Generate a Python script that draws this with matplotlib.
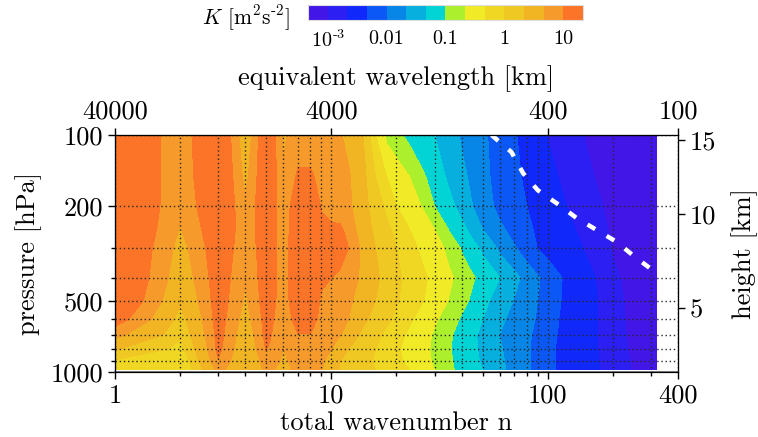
import numpy as np
import matplotlib.pyplot as plt
from matplotlib.ticker import FixedLocator, NullFormatter, NullLocator

plt.rcParams['font.family'] = 'serif'
plt.rcParams['font.serif'] = ['cmr10']
plt.rcParams['mathtext.fontset'] = 'cm'
plt.rcParams['axes.formatter.use_mathtext'] = True
plt.rcParams['font.size'] = 19

# total wavenumber n (columns) and pressure levels [hPa] (rows)
wavenumber = [1, 2, 3, 4, 5, 6, 7, 8, 9, 10, 11, 12, 14, 16, 18, 20, 23, 26, 30,
              35, 40, 45, 50, 60, 70, 80, 90, 100, 120, 150, 200, 250, 319]
pressure = [100, 150, 200, 250, 300, 400, 500, 600, 700, 800, 900, 980]

# log10 of kinetic energy K [m2 s-2]
log10_k = [
    [1.25, 0.85, 1.40, 0.45, 1.35, 0.65, 0.85, 0.85, 0.80, 0.78, 0.72, 0.62, 0.30, -0.30, -0.78, -0.93, -1.08, -1.18, -1.30,
     -1.55, -1.74, -1.85, -1.95, -2.13, -2.27, -2.43, -2.58, -2.71, -2.84, -3.01, -3.12, -3.18, -3.22],
    [1.30, 0.82, 1.40, 0.60, 1.35, 0.75, 1.05, 1.05, 0.90, 0.80, 0.78, 0.74, 0.39, 0.00, -0.30, -0.47, -0.70, -0.93, -1.14,
     -1.36, -1.61, -1.79, -1.93, -2.10, -2.23, -2.36, -2.48, -2.60, -2.77, -2.96, -3.10, -3.16, -3.21],
    [1.35, 0.78, 1.35, 0.75, 1.30, 0.80, 1.25, 1.25, 0.98, 0.90, 0.85, 0.78, 0.41, 0.15, -0.06, -0.30, -0.51, -0.70, -1.00,
     -1.20, -1.42, -1.70, -1.87, -2.08, -2.20, -2.30, -2.41, -2.51, -2.68, -2.88, -3.08, -3.15, -3.20],
    [1.40, 0.68, 1.30, 0.80, 1.25, 0.82, 1.28, 1.28, 1.08, 1.05, 1.05, 0.90, 0.49, 0.22, 0.07, -0.08, -0.30, -0.48, -0.70,
     -1.02, -1.20, -1.42, -1.70, -1.94, -2.11, -2.24, -2.35, -2.44, -2.60, -2.81, -3.05, -3.13, -3.20],
    [1.40, 0.58, 1.25, 0.78, 1.22, 0.85, 1.30, 1.30, 1.12, 1.12, 1.10, 1.00, 0.61, 0.30, 0.14, 0.00, -0.19, -0.35, -0.55,
     -0.79, -1.03, -1.19, -1.36, -1.78, -1.97, -2.15, -2.31, -2.40, -2.54, -2.73, -3.02, -3.11, -3.19],
    [1.40, 0.48, 1.20, 0.72, 1.20, 0.85, 1.30, 1.30, 1.06, 1.00, 0.95, 0.85, 0.63, 0.36, 0.19, 0.06, -0.10, -0.22, -0.40,
     -0.64, -0.82, -0.97, -1.09, -1.30, -1.60, -1.81, -1.97, -2.11, -2.34, -2.58, -2.95, -3.10, -3.20],
    [1.35, 0.35, 1.18, 0.65, 1.18, 0.85, 1.25, 1.25, 0.95, 0.85, 0.80, 0.75, 0.56, 0.30, 0.16, 0.03, -0.13, -0.26, -0.47,
     -0.72, -0.90, -1.06, -1.20, -1.47, -1.72, -1.87, -2.00, -2.14, -2.35, -2.56, -2.91, -3.09, -3.19],
    [1.15, 0.18, 1.15, 0.55, 1.14, 0.80, 1.15, 1.15, 0.90, 0.80, 0.75, 0.70, 0.37, 0.19, 0.06, -0.07, -0.25, -0.43, -0.65,
     -0.87, -1.04, -1.18, -1.30, -1.64, -1.80, -1.92, -2.03, -2.17, -2.38, -2.57, -2.90, -3.08, -3.18],
    [0.78, 0.05, 1.12, 0.45, 1.10, 0.75, 0.98, 0.98, 0.80, 0.75, 0.70, 0.49, 0.22, 0.07, -0.07, -0.19, -0.37, -0.54, -0.75,
     -0.96, -1.11, -1.24, -1.39, -1.70, -1.83, -1.95, -2.07, -2.20, -2.39, -2.58, -2.89, -3.07, -3.17],
    [0.32, -0.10, 1.08, 0.38, 1.02, 0.70, 0.88, 0.88, 0.75, 0.70, 0.50, 0.30, 0.14, 0.00, -0.13, -0.25, -0.42, -0.58, -0.77,
     -0.98, -1.12, -1.24, -1.37, -1.67, -1.83, -1.96, -2.10, -2.23, -2.40, -2.58, -2.87, -3.06, -3.16],
    [-0.05, -0.25, 0.98, 0.30, 0.88, 0.65, 0.80, 0.80, 0.75, 0.56, 0.30, 0.22, 0.09, -0.03, -0.14, -0.23, -0.39, -0.56, -0.75,
     -0.96, -1.10, -1.22, -1.34, -1.64, -1.83, -1.96, -2.10, -2.23, -2.40, -2.58, -2.84, -3.04, -3.15],
    [-0.20, -0.30, 0.80, 0.35, 0.78, 0.60, 0.78, 0.78, 0.72, 0.46, 0.27, 0.20, 0.10, 0.00, -0.10, -0.18, -0.30, -0.48, -0.70,
     -0.94, -1.09, -1.20, -1.30, -1.62, -1.81, -1.96, -2.10, -2.23, -2.40, -2.58, -2.83, -3.03, -3.14],
]

# contour levels of K and colours
k_levels = [1e-4, 1e-3, 2e-3, 5e-3, 0.01, 0.02, 0.05, 0.1, 0.2, 0.5, 1, 2, 5, 10, 1000]
colors = ['#4316e8', '#2c1ff3', '#1128fb', '#0b58f6', '#0886e8', '#06afde', '#02d4d6',
          '#acef2d', '#f0ea27', '#efd724', '#efc823', '#f1b423', '#f59a2b', '#fb7428']
cbar_ticks = [1e-3, 0.01, 0.1, 1, 10]
cbar_labels = [r'$10^{\text{-}3}$', '0.01', '0.1', '1', '10']

# axis ticks
n_major = [1, 10, 100, 400]
n_minor = [2, 3, 4, 5, 6, 7, 8, 9, 20, 30, 40, 50, 60, 70, 80, 90, 200, 300]
p_major = [100, 200, 500, 1000]
p_minor = [300, 400, 600, 700, 800, 900]
wavelength_km = [40000, 4000, 400, 100]
height_km = [5, 10, 15]
height_p = [537, 215, 105]

# white dashed line
line_n = [55, 68, 77, 90, 110, 136, 169, 209, 253, 306, 319]
line_p = [100, 118, 145, 171, 194, 224, 252, 283, 327, 372, 385]

fig = plt.figure(figsize=(7.58, 4.37), dpi=100)
ax = fig.add_axes([0.1517, 0.1487, 0.7427, 0.5423])

cs = ax.contourf(wavenumber, pressure, np.array(log10_k), levels=np.log10(k_levels),
                 colors=colors)
ax.plot(line_n, line_p, color='white', lw=3.2, ls=(0, (2, 3)), zorder=3)

ax.set_xscale('log')
ax.set_yscale('log')
ax.set_xlim(1, 400)
ax.set_ylim(1000, 100)
ax.xaxis.set_major_locator(FixedLocator(n_major))
ax.xaxis.set_minor_locator(FixedLocator(n_minor))
ax.set_xticklabels([str(v) for v in n_major])
ax.xaxis.set_minor_formatter(NullFormatter())
ax.yaxis.set_major_locator(FixedLocator(p_major))
ax.yaxis.set_minor_locator(FixedLocator(p_minor))
ax.set_yticklabels([str(v) for v in p_major])
ax.yaxis.set_minor_formatter(NullFormatter())
ax.tick_params(which='major', direction='out', length=5, width=1)
ax.tick_params(which='minor', direction='out', length=3, width=1)
ax.grid(True, which='both', color='0.15', ls=(0, (1, 2)), lw=1)
ax.set_xlabel('total wavenumber n', labelpad=3)
ax.set_ylabel('pressure [hPa]', labelpad=6)
ax.spines['bottom'].set_color('0.45')
ax.spines['bottom'].set_linewidth(1.3)

# top axis: equivalent wavelength
ax_t = ax.twiny()
ax_t.set_xscale('log')
ax_t.set_xlim(1, 400)
ax_t.xaxis.set_major_locator(FixedLocator([40000 / w for w in wavelength_km]))
ax_t.xaxis.set_minor_locator(NullLocator())
ax_t.set_xticklabels([str(w) for w in wavelength_km])
ax_t.tick_params(direction='out', length=5, width=1)
ax_t.set_xlabel('equivalent wavelength [km]', labelpad=10)

# right axis: height
ax_r = ax.twinx()
ax_r.set_yscale('log')
ax_r.set_ylim(1000, 100)
ax_r.yaxis.set_major_locator(FixedLocator(height_p))
ax_r.yaxis.set_minor_locator(NullLocator())
ax_r.set_yticklabels([str(h) for h in height_km])
ax_r.tick_params(direction='out', length=5, width=1)
ax_r.set_ylabel('height [km]', labelpad=11)

# colorbar
cax = fig.add_axes([0.4063, 0.9542, 0.3628, 0.0343])
cb = fig.colorbar(cs, cax=cax, orientation='horizontal')
cb.set_ticks(np.log10(cbar_ticks))
cb.set_ticklabels(cbar_labels)
cb.ax.tick_params(length=0, labelsize=14.5, pad=7)
cb.outline.set_edgecolor('#dddddd')
cb.outline.set_linewidth(0.8)
fig.text(0.383, 0.958, r'$K$ [m$^2$s$^{\text{-}2}$]', ha='right', va='center', fontsize=15.5)

fig.savefig('out.png', dpi=100)
